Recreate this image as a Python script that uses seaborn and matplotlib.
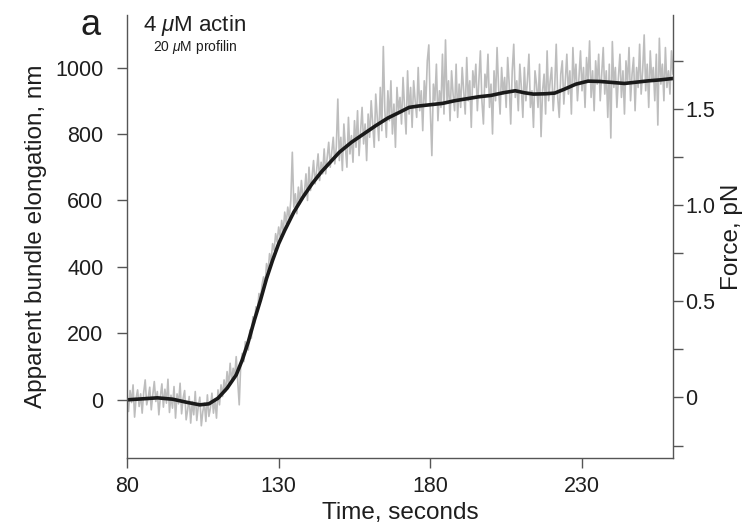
import numpy as np
import pandas as pd
import matplotlib
matplotlib.use('Agg')
import matplotlib.pyplot as plt
import seaborn as sns

# raw trace, one value every 0.5 s from 80 s to 260 s (nm)
raw_start, raw_step = 80.0, 0.5
raw_nm = [
    12, -35, 28, -8, 45, -52, 5, 30, -20, 18,
    -40, 22, 60, -15, 8, 38, -30, 15, 55, -5,
    25, -45, 10, 48, -22, 32, -10, 62, -38, 14,
    -25, 40, -55, 18, -12, 50, -42, 5, 28, -60,
    -30, 10, -70, -5, -45, 25, -62, -20, 8, -78,
    -35, -10, -65, 15, -50, -25, 20, -40, 2, -55,
    30, -15, 45, 10, 60, 25, 85, 40, 110, 55,
    95, 70, 130, 60, -15, 110, 140, 115, 175, 160,
    150, 210, 185, 250, 230, 280, 265, 320, 300, 345,
    370, 345, 410, 385, 440, 415, 470, 450, 500, 475,
    520, 490, 540, 505, 565, 530, 580, 545, 600, 745,
    580, 620, 560, 640, 590, 660, 605, 625, 680, 600,
    700, 630, 670, 720, 650, 690, 740, 660, 715, 680,
    755, 680, 730, 775, 700, 745, 790, 710, 760, 905,
    720, 790, 690, 830, 760, 700, 850, 740, 795, 715,
    840, 760, 870, 735, 810, 880, 770, 830, 720, 860,
    790, 900, 830, 760, 920, 850, 780, 940, 810, 1063,
    870, 790, 930, 840, 960, 800, 890, 760, 940, 870,
    910, 830, 970, 880, 800, 990, 860, 940, 820, 960,
    900, 850, 1000, 870, 930, 810, 960, 890, 1020, 1068,
    870, 735, 950, 900, 1010, 840, 930, 880, 1040, 860,
    1083, 900, 960, 840, 990, 920, 870, 1010, 850, 950,
    880, 1000, 930, 860, 1030, 900, 960, 820, 990, 940,
    1010, 870, 960, 1050, 900, 830, 980, 940, 1040, 880,
    950, 800, 990, 900, 1060, 940, 860, 1000, 920, 970,
    880, 1030, 950, 830, 990, 1070, 910, 960, 870, 1010,
    940, 850, 1000, 900, 960, 1040, 880, 930, 820, 990,
    950, 880, 1010, 792, 930, 980, 860, 1050, 900, 960,
    1000, 870, 940, 1070, 910, 850, 980, 1020, 890, 960,
    1040, 920, 990, 860, 1060, 950, 1010, 900, 970, 1050,
    930, 1000, 880, 1030, 960, 1080, 910, 990, 870, 1020,
    950, 1040, 900, 980, 1060, 920, 990, 850, 1010, 788,
    1078, 940, 1000, 880, 970, 1040, 910, 990, 860, 1020,
    950, 1060, 900, 980, 1030, 870, 1000, 940, 1070, 920,
    990, 1098, 930, 1010, 880, 1050, 960, 1000, 900, 1040,
    827, 1088, 950, 1010, 900, 1060, 940, 990, 920, 1050,
    980,
]

# smoothed trace
smooth_t = [80, 85, 90, 95, 100, 104, 107, 110, 113, 116, 118, 120, 122, 124,
            126, 128, 130, 132, 135, 138, 141, 144, 147, 150, 154, 158, 162,
            166, 170, 173, 176, 180, 184, 188, 192, 196, 200, 204, 208, 211,
            214, 218, 221, 224, 228, 232, 236, 240, 244, 248, 252, 256, 260]
smooth_nm = [0, 3, 6, 2, -8, -15, -12, 5, 35, 75, 120, 175, 240, 300,
             365, 420, 470, 510, 565, 610, 650, 685, 715, 745, 775, 800, 825,
             848, 866, 880, 884, 888, 892, 900, 906, 912, 916, 924, 930, 924,
             920, 921, 923, 934, 950, 959, 958, 955, 952, 956, 960, 963, 967]

x_ticks = [80, 130, 180, 230]
y_ticks = [0, 200, 400, 600, 800, 1000]
force_ticks = [0, 0.5, 1.0, 1.5]
force_labels = ['0', '0.5', '1.0', '1.5']
force_minor = [-0.25, 0.25, 0.75, 1.25, 1.75]

raw_df = pd.DataFrame({'t': raw_start + raw_step * np.arange(len(raw_nm)),
                       'nm': raw_nm})
smooth_df = pd.DataFrame({'t': smooth_t, 'nm': smooth_nm})

sns.set_style('ticks')
plt.rcParams['font.family'] = ['Liberation Sans', 'DejaVu Sans']
plt.rcParams['mathtext.fontset'] = 'custom'
plt.rcParams['mathtext.rm'] = 'Liberation Sans'
plt.rcParams['mathtext.it'] = 'Liberation Sans:italic'

axis_col = '#555555'
text_col = '#1e1e1e'

fig = plt.figure(figsize=(7.45, 5.24), dpi=100)
ax = fig.add_axes([127 / 745, 1 - 458 / 524, 546 / 745, 443 / 524])

sns.lineplot(data=raw_df, x='t', y='nm', ax=ax, color='#bdbdbd', lw=1.2,
             estimator=None, sort=False)
sns.lineplot(data=smooth_df, x='t', y='nm', ax=ax, color='#1a1a1a', lw=2.6,
             estimator=None, sort=False)

ax.set_xlim(80, 260)
ax.set_ylim(-175, 1158)
ax.set_xticks(x_ticks)
ax.set_yticks(y_ticks)
ax.tick_params(axis='both', colors=axis_col, labelcolor=text_col, labelsize=15.5,
               length=7, width=1)
ax.tick_params(axis='y', pad=10)
ax.tick_params(axis='x', pad=6)
for side in ['top', 'right']:
    ax.spines[side].set_visible(False)
for side in ['left', 'bottom']:
    ax.spines[side].set_color(axis_col)
    ax.spines[side].set_linewidth(1)

ax.set_xlabel('Time, seconds', fontsize=17.5, color=text_col)
ax.set_ylabel('Apparent bundle elongation, nm', fontsize=17.5, color=text_col)
ax.xaxis.set_label_coords(0.5, -0.10)
ax.yaxis.set_label_coords(-0.147, 0.5)

# force axis on the right
ax2 = ax.twinx()
ax2.set_ylim(-0.315, 1.99)
ax2.set_yticks(force_ticks)
ax2.set_yticklabels(force_labels)
ax2.set_yticks(force_minor, minor=True)
ax2.tick_params(axis='y', which='both', colors=axis_col, labelcolor=text_col,
                labelsize=15.5, length=7, width=1, pad=2)
for side in ['top', 'left', 'bottom']:
    ax2.spines[side].set_visible(False)
ax2.spines['right'].set_color(axis_col)
ax2.spines['right'].set_linewidth(1)
ax2.set_ylabel('Force, pN', fontsize=17.5, color=text_col)
ax2.yaxis.set_label_coords(1.087, 0.5)

fig.text(80 / 745, 1 - 35 / 524, 'a', fontsize=26, color=text_col,
         ha='left', va='baseline')
fig.text(143 / 745, 1 - 31 / 524, r'4 $\mu$M actin', fontsize=16,
         color=text_col, ha='left', va='baseline')
fig.text(153 / 745, 1 - 51 / 524, r'20 $\mu$M profilin', fontsize=10,
         color=text_col, ha='left', va='baseline')

fig.savefig('out.png', dpi=100)
